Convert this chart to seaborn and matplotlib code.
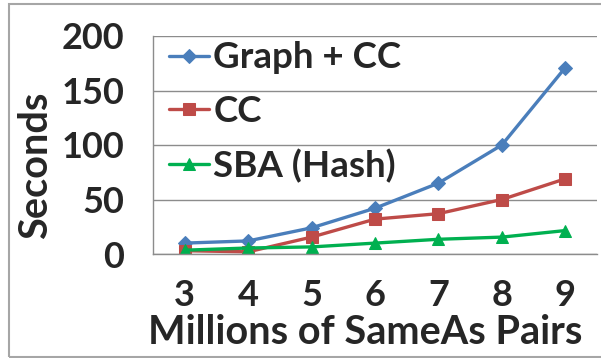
import matplotlib
matplotlib.use("Agg")
import matplotlib.pyplot as plt
import matplotlib.patches as patches
from matplotlib.ticker import FixedLocator
import seaborn as sns
import pandas as pd

pairs = [3, 4, 5, 6, 7, 8, 9]
graph_cc = [10, 12, 24, 42, 65, 100, 171]
cc = [3, 2, 15.5, 32, 37, 50, 69]
sba_hash = [3.5, 5.5, 6.5, 10, 13.5, 15.5, 21.5]
series_names = ["Graph + CC", "CC", "SBA (Hash)"]
y_ticks = [0, 50, 100, 150, 200]

df = pd.DataFrame({
    "pairs": pairs * 3,
    "seconds": graph_cc + cc + sba_hash,
    "series": [series_names[0]] * 7 + [series_names[1]] * 7 + [series_names[2]] * 7,
})

sns.set_style("white")
plt.rcParams["font.family"] = ["Lato", "DejaVu Sans"]
plt.rcParams["font.weight"] = "bold"

palette = {"Graph + CC": "#4A7EBB", "CC": "#BE4B48", "SBA (Hash)": "#00B050"}
markers = {"Graph + CC": "D", "CC": "s", "SBA (Hash)": "^"}
msizes = {"Graph + CC": 7, "CC": 9, "SBA (Hash)": 9}

fig = plt.figure(figsize=(6.01, 3.58), dpi=100)
ax = fig.add_axes([153 / 601, 1 - 254 / 358, 444 / 601, 218 / 358])

# one line per series, Excel-like markers
for name in series_names:
    sns.lineplot(data=df[df["series"] == name], x="pairs", y="seconds",
                 color=palette[name], marker=markers[name], markersize=msizes[name],
                 markeredgecolor=palette[name], linewidth=2.4, label=name, ax=ax)

grid_col = "#8C8C8C"
ax.set_xlim(2.5, 9.5)
ax.set_ylim(0, 200)
ax.set_yticks(y_ticks)
ax.set_xticks(pairs)
ax.xaxis.set_minor_locator(FixedLocator([2.5 + i for i in range(8)]))
ax.yaxis.grid(True, color=grid_col, linewidth=1.0)
ax.xaxis.grid(False)
ax.set_axisbelow(True)
for s in ["top", "right"]:
    ax.spines[s].set_visible(False)
for s in ["left", "bottom"]:
    ax.spines[s].set_color(grid_col)
    ax.spines[s].set_linewidth(1.0)

ax.tick_params(axis="x", which="major", length=0, pad=18, labelsize=26)
ax.tick_params(axis="x", which="minor", length=10, width=1.0, color=grid_col, direction="out")
ax.tick_params(axis="y", which="major", length=8.6, width=1.0, color=grid_col, pad=12, labelsize=26)

ax.set_xlabel("Millions of SameAs Pairs", fontsize=28.5, fontweight="bold")
ax.set_ylabel("Seconds", fontsize=28.5, fontweight="bold")
ax.xaxis.set_label_coords(0.477, -0.36)
ax.xaxis.label.set_va("center")
ax.yaxis.set_label_coords(-0.2635, 0.405)
ax.yaxis.label.set_va("center")

leg = ax.legend(loc="upper left", bbox_to_anchor=(0.036, 0.975), frameon=False,
                fontsize=26.5, handlelength=1.1, handletextpad=0.1,
                labelspacing=0.56, borderpad=0, borderaxespad=0)

# grey frame around the whole chart
fig.patches.append(patches.Rectangle((9 / 601, 1 / 358), 600 / 601, 353 / 358,
                                     transform=fig.transFigure, fill=False,
                                     edgecolor="#A6A6A6", linewidth=1.5))

fig.savefig("out.png", dpi=100)
